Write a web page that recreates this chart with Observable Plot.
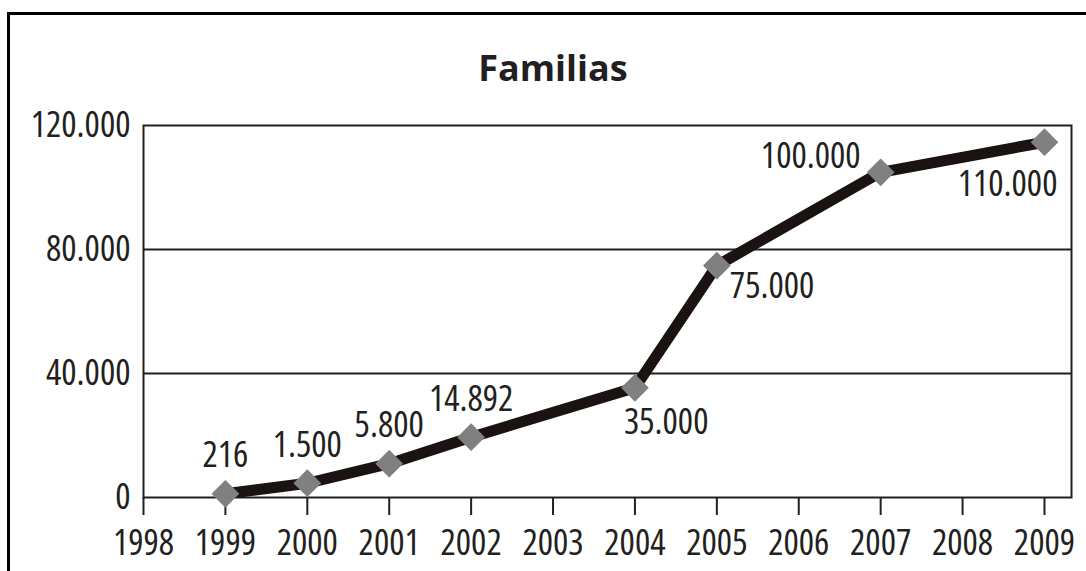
<!DOCTYPE html>
<html><head><meta charset="utf-8">
<script src="https://cdn.jsdelivr.net/npm/d3@7"></script>
<script src="https://cdn.jsdelivr.net/npm/@observablehq/plot@0.6"></script>
<style>
html,body{margin:0;padding:0;background:#fff;}
#wrap{position:relative;width:1086px;height:571px;overflow:hidden;background:#fff;}
#frame{position:absolute;left:7px;top:12px;width:1090px;height:600px;border-top:3px solid #000;border-left:3px solid #000;}
#title{position:absolute;left:453px;width:200px;top:50px;text-align:center;font-family:"Open Sans",sans-serif;font-weight:bold;font-size:36px;line-height:36px;color:#231f20;}
#chart{position:absolute;left:0;top:100px;}
#chart text{font-stretch:75%;}
</style></head><body>
<div id="wrap"><div id="frame"></div><div id="title">Familias</div><div id="chart"></div></div>
<script>
const years = [1999, 2000, 2001, 2002, 2004, 2005, 2007, 2009];
const plotted = [1200, 4600, 10900, 19450, 35400, 74800, 104900, 114600];
const labelValues = [216, 1500, 5800, 14892, 35000, 75000, 100000, 110000];
const xTicks = [1998, 1999, 2000, 2001, 2002, 2003, 2004, 2005, 2006, 2007, 2008, 2009];
const yTicks = [0, 40000, 80000, 120000];
const gridValues = [40000, 80000];

const locale = d3.formatLocale({decimal: ",", thousands: ".", grouping: [3], currency: ["", ""]});
const fmt = locale.format(",d");
const data = years.map((year, i) => ({year, value: plotted[i], label: fmt(labelValues[i])}));

const ink = "#231f20";
const textOpts = {x: "year", y: "value", text: "label", fill: ink, lineAnchor: "middle"};
const pick = ys => d => ys.includes(d.year);

const chart = Plot.plot({
  width: 1086, height: 471,
  marginLeft: 143, marginRight: 15, marginTop: 25, marginBottom: 74,
  style: {fontFamily: "'Open Sans', sans-serif", fontSize: "36px", color: ink, background: "transparent"},
  x: {domain: [1998, 2009.33]},
  y: {domain: [0, 120000]},
  marks: [
    Plot.ruleY(gridValues, {stroke: ink, strokeWidth: 2}),
    Plot.frame({stroke: ink, strokeWidth: 2}),
    Plot.axisY({ticks: yTicks, tickSize: 0, tickPadding: 13, tickFormat: fmt, label: null}),
    Plot.axisX({ticks: xTicks, tickSize: 18, tickPadding: 14, tickFormat: d => String(d), label: null, strokeWidth: 2, stroke: ink}),
    Plot.line(data, {x: "year", y: "value", stroke: "#1b1311", strokeWidth: 11, strokeLinejoin: "round", strokeLinecap: "butt"}),
    Plot.dot(data, {x: "year", y: "value", symbol: "diamond2", r: 12.5, fill: "#808080", stroke: "none"}),
    Plot.text(data, {...textOpts, filter: pick([1999, 2000, 2001, 2002]), textAnchor: "middle", dy: -38}),
    Plot.text(data, {...textOpts, filter: pick([2004]), textAnchor: "start", dx: -11, dy: 35}),
    Plot.text(data, {...textOpts, filter: pick([2005]), textAnchor: "start", dx: 13, dy: 21}),
    Plot.text(data, {...textOpts, filter: pick([2007]), textAnchor: "end", dx: -20, dy: -16}),
    Plot.text(data, {...textOpts, filter: pick([2009]), textAnchor: "end", dx: 13, dy: 42})
  ]
});
document.getElementById("chart").appendChild(chart);
</script>
</body></html>
